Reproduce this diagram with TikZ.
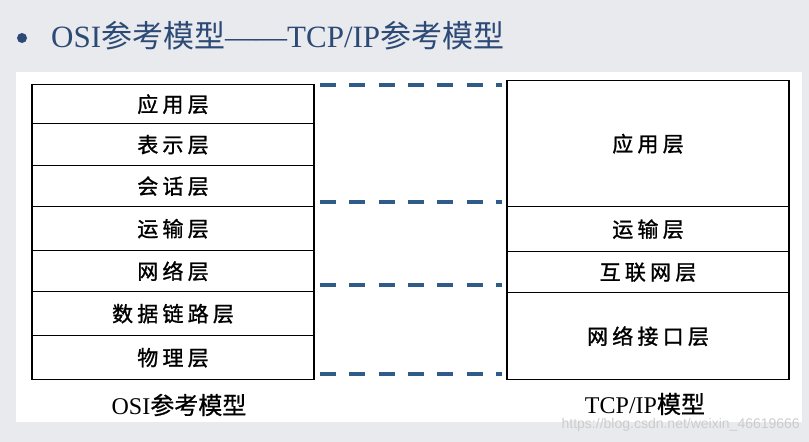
\documentclass[tikz,border=0pt]{standalone}
\usepackage{fontspec}
\setmainfont{Liberation Serif}
\newfontfamily\cjk[LetterSpace=20,FakeBold=1.2]{Noto Sans CJK SC}
\newfontfamily\cjkt{Noto Sans CJK SC}
\newfontfamily\cjkc[FakeBold=0.8]{Noto Sans CJK SC}
\newfontfamily\wmfont{Liberation Sans}
\definecolor{bgray}{HTML}{E8EAED}
\definecolor{dashblue}{HTML}{2F5B88}
\definecolor{titleblue}{HTML}{2D4A76}
\begin{document}
\begin{tikzpicture}[x=1pt,y=-1pt,
  layer/.style={draw=black, line width=1.4pt, minimum width=282pt, inner sep=0pt,
    anchor=north, font=\fontsize{21}{25}\selectfont\cjk},
  dashline/.style={draw=dashblue, line width=3.6pt, dash pattern=on 16pt off 13.3pt},
  caption/.style={font=\fontsize{24}{28}\selectfont, inner sep=0pt}]
\fill[bgray] (0,0) rectangle (809,442);
\useasboundingbox (0,0) rectangle (809,442);
\fill[white] (16,72) rectangle (802,422);
% title
\fill[titleblue] (22,38) circle (5pt);
\node[anchor=west, inner sep=0pt, text=titleblue, font=\fontsize{31}{35}\selectfont] (title) at (51,36)
  {OSI{\cjkt 参考模型}——TCP/IP{\cjkt 参考模型}};
% OSI stack
\node[layer, minimum height=39pt] (L1) at (173,84) {应用层};
\node[layer, minimum height=42pt] (L2) at (173,123) {表示层};
\node[layer, minimum height=41pt] (L3) at (173,165) {会话层};
\node[layer, minimum height=44pt] (L4) at (173,206) {运输层};
\node[layer, minimum height=41pt] (L5) at (173,250) {网络层};
\node[layer, minimum height=44pt] (L6) at (173,291) {数据链路层};
\node[layer, minimum height=44pt] (L7) at (173,335) {物理层};
% TCP/IP stack
\node[layer, minimum height=126pt] (R1) at (648,80) {应用层};
\node[layer, minimum height=45pt] (R2) at (648,206) {运输层};
\node[layer, minimum height=41pt] (R3) at (648,251) {互联网层};
\node[layer, minimum height=87pt] (R4) at (648,292) {网络接口层};
% dashed correspondences
\coordinate (D1s) at (320,85);  \coordinate (D1e) at (502,85);
\coordinate (D2s) at (320,202); \coordinate (D2e) at (502,202);
\coordinate (D3s) at (320,285); \coordinate (D3e) at (502,285);
\coordinate (D4s) at (320,374); \coordinate (D4e) at (502,374);
\draw[dashline] (D1s) -- (D1e);
\draw[dashline] (D2s) -- (D2e);
\draw[dashline] (D3s) -- (D3e);
\draw[dashline] (D4s) -- (D4e);
% captions
\node[caption] (osilbl) at (179,405) {OSI{\cjkc 参考模型}};
\node[caption] (tcplbl) at (645,404) {TCP/IP{\cjkc 模型}};
% watermark
\node[anchor=east, inner sep=0pt, text=gray!40, font=\fontsize{14}{16}\selectfont\wmfont] (wm) at (800,425)
  {https://blog.csdn.net/weixin\_46619666};
\end{tikzpicture}
\end{document}
